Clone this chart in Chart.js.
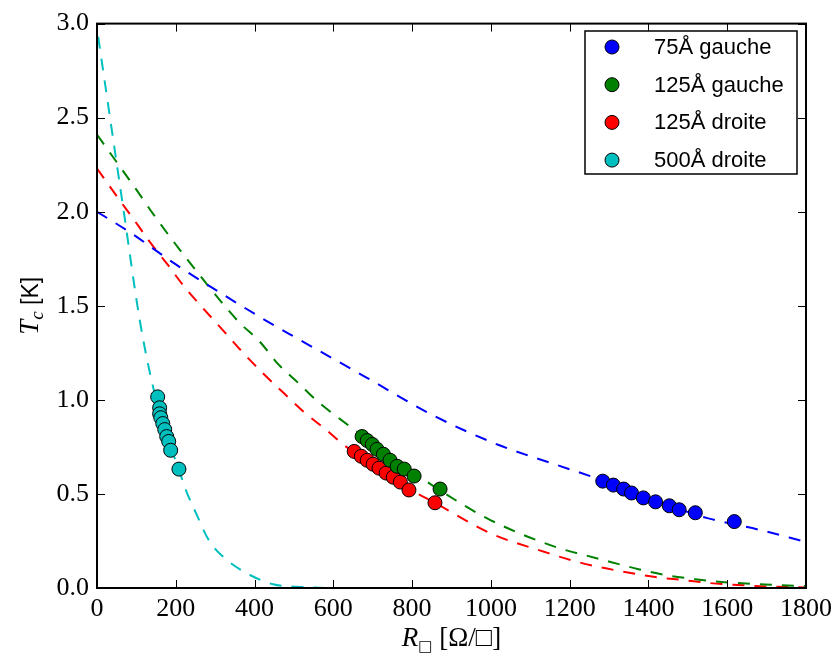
<!DOCTYPE html>
<html>
<head>
<meta charset="utf-8">
<script src="https://cdn.jsdelivr.net/npm/chart.js@4"></script>
<style>
  html, body { margin: 0; padding: 0; background: #fff; }
  canvas { display: block; }
</style>
</head>
<body>
<canvas id="myChart" width="838" height="657"></canvas>
<script>
// measured points (R in ohm/sq, Tc in K)
const r75g = [1284, 1311, 1337, 1357, 1387, 1418, 1453, 1478, 1519, 1618];
const tc75g = [0.568, 0.547, 0.526, 0.505, 0.479, 0.458, 0.437, 0.416, 0.400, 0.353];

const r125g = [673, 686, 699, 711, 727, 744, 762, 780, 805, 871];
const tc125g = [0.805, 0.784, 0.763, 0.737, 0.711, 0.679, 0.647, 0.632, 0.595, 0.526];

const r125d = [653, 671, 686, 701, 716, 734, 752, 770, 792, 858];
const tc125d = [0.726, 0.700, 0.679, 0.658, 0.637, 0.611, 0.589, 0.563, 0.521, 0.453];

const r500d = [154, 159, 159, 162, 167, 172, 177, 182, 187, 208];
const tc500d = [1.016, 0.958, 0.926, 0.905, 0.874, 0.842, 0.805, 0.779, 0.732, 0.632];

// fitted curves
const fitR75g = [0, 84, 200, 320, 430, 514, 683, 851, 1020, 1159, 1300, 1450, 1552, 1680, 1800];
const fitT75g = [2.0, 1.89, 1.72, 1.56, 1.42, 1.32, 1.12, 0.92, 0.76, 0.66, 0.56, 0.44, 0.37, 0.31, 0.245];

const fitR125g = [0, 58, 99, 142, 184, 228, 316, 362, 413, 460, 511, 561, 619, 700, 780, 870, 1000, 1167, 1240, 1306, 1375, 1446, 1519, 1585, 1729, 1800];
const fitT125g = [2.41, 2.24, 2.12, 1.99, 1.87, 1.75, 1.52, 1.41, 1.31, 1.19, 1.09, 0.99, 0.895, 0.77, 0.65, 0.52, 0.36, 0.216, 0.174, 0.137, 0.10, 0.068, 0.047, 0.032, 0.016, 0.01];

const fitR125d = [0, 51, 93, 134, 179, 222, 268, 324, 371, 422, 472, 523, 582, 633, 700, 790, 860, 1000, 1139, 1205, 1278, 1344, 1417, 1489, 1557, 1628, 1704, 1800];
const fitT125d = [2.23, 2.08, 1.96, 1.84, 1.72, 1.60, 1.49, 1.36, 1.25, 1.14, 1.04, 0.94, 0.84, 0.75, 0.66, 0.53, 0.45, 0.29, 0.19, 0.147, 0.11, 0.084, 0.058, 0.042, 0.026, 0.016, 0.008, 0.003];

const fitR500d = [3, 33, 68, 108, 140, 175, 208, 222, 253, 285, 329, 384, 447, 523, 600, 700];
const fitT500d = [2.93, 2.5, 2.0, 1.43, 1.09, 0.82, 0.63, 0.54, 0.39, 0.25, 0.15, 0.074, 0.02, 0.005, 0.0, 0.0];

const labels = ['75Å gauche', '125Å gauche', '125Å droite', '500Å droite'];
const colors = ['#0000ff', '#008000', '#ff0000', '#00bfbf'];

const xTicks = [0, 200, 400, 600, 800, 1000, 1200, 1400, 1600, 1800];
const yTicks = [0.0, 0.5, 1.0, 1.5, 2.0, 2.5, 3.0];

function pts(xs, ys) {
    return xs.map((x, i) => ({ x: x, y: ys[i] }));
}

function pointSet(label, xs, ys, color) {
    return {
        label: label,
        data: pts(xs, ys),
        showLine: false,
        backgroundColor: color,
        borderColor: '#000000',
        borderWidth: 1,
        pointRadius: 7,
        pointHoverRadius: 7,
        order: 1
    };
}

function fitSet(xs, ys, color) {
    return {
        label: '',
        isFit: true,
        data: pts(xs, ys),
        showLine: true,
        borderColor: color,
        borderWidth: 2,
        borderDash: [12, 10],
        pointRadius: 0,
        cubicInterpolationMode: 'monotone',
        order: 2
    };
}

const serif = '"Liberation Serif", "DejaVu Serif", serif';
const sans = '"Liberation Sans", Arial, sans-serif';

// frame with inward ticks on all four sides, like matplotlib
const framePlugin = {
    id: 'frame',
    afterDatasetsDraw(chart) {
        const ctx = chart.ctx;
        const a = chart.chartArea;
        const xs = chart.scales.x, ys = chart.scales.y;
        ctx.save();
        ctx.strokeStyle = '#000';
        ctx.lineWidth = 1;
        xTicks.forEach(v => {
            const px = Math.round(xs.getPixelForValue(v)) + 0.5;
            ctx.beginPath();
            ctx.moveTo(px, a.bottom); ctx.lineTo(px, a.bottom - 8);
            ctx.moveTo(px, a.top); ctx.lineTo(px, a.top + 8);
            ctx.stroke();
        });
        yTicks.forEach(v => {
            const py = Math.round(ys.getPixelForValue(v)) + 0.5;
            ctx.beginPath();
            ctx.moveTo(a.left, py); ctx.lineTo(a.left + 8, py);
            ctx.moveTo(a.right, py); ctx.lineTo(a.right - 8, py);
            ctx.stroke();
        });
        ctx.lineWidth = 2;
        ctx.strokeRect(a.left, a.top, a.right - a.left, a.bottom - a.top);
        ctx.restore();
    }
};

// axis titles with subscripts
const titlePlugin = {
    id: 'titles',
    afterDraw(chart) {
        const ctx = chart.ctx;
        const a = chart.chartArea;
        ctx.save();
        ctx.fillStyle = '#000';
        ctx.textBaseline = 'alphabetic';

        // x title: R_□ [Ω/□]
        const pX = [
            { t: 'R', f: 'italic 27px ' + serif, dy: 0 },
            { t: '□', f: '15px "DejaVu Sans", sans-serif', dy: 5 },
            { t: ' [Ω/□]', f: '27px ' + serif, dy: 0 }
        ];
        let w = 0;
        pX.forEach(p => { ctx.font = p.f; p.w = ctx.measureText(p.t).width; w += p.w; });
        let x = (a.left + a.right) / 2 - w / 2;
        const by = 646;
        pX.forEach(p => { ctx.font = p.f; ctx.fillText(p.t, x, by + p.dy); x += p.w; });

        // y title: T_c [K]
        const pY = [
            { t: 'T', f: 'italic 27px ' + serif, dy: 0 },
            { t: 'c', f: 'italic 19px ' + serif, dy: 5 },
            { t: ' [K]', f: '23px ' + sans, dy: 0 }
        ];
        w = 0;
        pY.forEach(p => { ctx.font = p.f; p.w = ctx.measureText(p.t).width; w += p.w; });
        ctx.translate(38, (a.top + a.bottom) / 2);
        ctx.rotate(-Math.PI / 2);
        x = -w / 2;
        pY.forEach(p => { ctx.font = p.f; ctx.fillText(p.t, x, p.dy); x += p.w; });
        ctx.restore();
    }
};

// boxed legend in the upper right corner
const legendPlugin = {
    id: 'boxLegend',
    afterDraw(chart) {
        const ctx = chart.ctx;
        const sets = chart.data.datasets.filter(d => !d.isFit);
        ctx.save();
        ctx.fillStyle = '#fff';
        ctx.fillRect(585, 31, 212, 143);
        ctx.strokeStyle = '#000';
        ctx.lineWidth = 1.5;
        ctx.strokeRect(585, 31, 212, 143);
        ctx.font = '22px ' + sans;
        ctx.textBaseline = 'middle';
        sets.forEach((d, i) => {
            const cy = 47 + i * 37.7;
            ctx.beginPath();
            ctx.arc(612, cy, 7, 0, Math.PI * 2);
            ctx.fillStyle = d.backgroundColor;
            ctx.fill();
            ctx.lineWidth = 1;
            ctx.strokeStyle = '#000';
            ctx.stroke();
            ctx.fillStyle = '#000';
            ctx.fillText(d.label, 654, cy + 1);
        });
        ctx.restore();
    }
};

const ctx = document.getElementById('myChart').getContext('2d');
new Chart(ctx, {
    type: 'scatter',
    data: {
        datasets: [
            pointSet(labels[0], r75g, tc75g, colors[0]),
            pointSet(labels[1], r125g, tc125g, colors[1]),
            pointSet(labels[2], r125d, tc125d, colors[2]),
            pointSet(labels[3], r500d, tc500d, colors[3]),
            fitSet(fitR75g, fitT75g, colors[0]),
            fitSet(fitR125g, fitT125g, colors[1]),
            fitSet(fitR125d, fitT125d, colors[2]),
            fitSet(fitR500d, fitT500d, colors[3])
        ]
    },
    options: {
        responsive: false,
        animation: false,
        layout: { padding: { top: 18, right: 30, left: 0, bottom: 0 } },
        plugins: {
            legend: { display: false },
            tooltip: { enabled: false }
        },
        scales: {
            x: {
                type: 'linear',
                min: 0,
                max: 1800,
                afterFit: s => { s.height = 69; },
                afterBuildTicks: s => { s.ticks = xTicks.map(v => ({ value: v })); },
                grid: { display: false, drawTicks: false },
                border: { display: false },
                ticks: {
                    color: '#000',
                    padding: 6,
                    maxRotation: 0,
                    font: { family: serif, size: 26 },
                    callback: v => String(v)
                }
            },
            y: {
                type: 'linear',
                min: 0,
                max: 3,
                afterFit: s => { s.width = 97; },
                afterBuildTicks: s => { s.ticks = yTicks.map(v => ({ value: v })); },
                grid: { display: false, drawTicks: false },
                border: { display: false },
                ticks: {
                    color: '#000',
                    padding: 8,
                    font: { family: serif, size: 26 },
                    callback: v => Number(v).toFixed(1)
                }
            }
        }
    },
    plugins: [framePlugin, titlePlugin, legendPlugin]
});
</script>
</body>
</html>
